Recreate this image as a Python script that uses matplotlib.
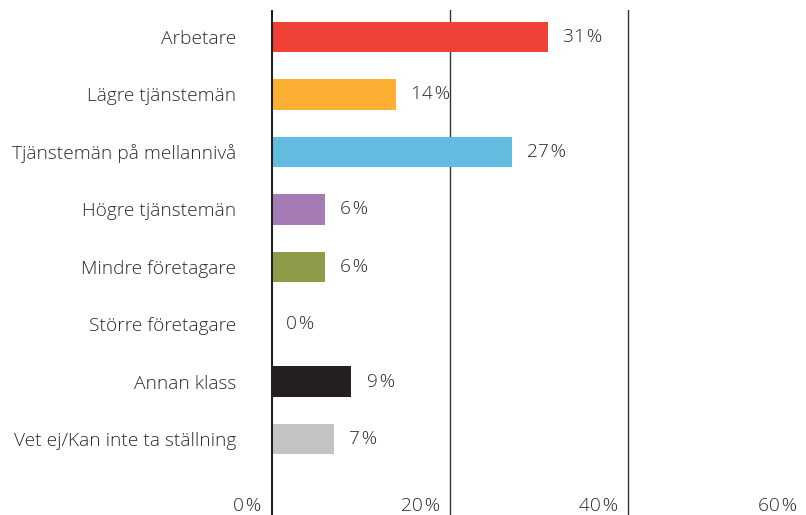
import matplotlib
matplotlib.use("agg")
import matplotlib.pyplot as plt
from matplotlib import transforms

categories = ["Arbetare", "Lägre tjänstemän", "Tjänstemän på mellannivå",
              "Högre tjänstemän", "Mindre företagare", "Större företagare",
              "Annan klass", "Vet ej/Kan inte ta ställning"]
values = [31, 14, 27, 6, 6, 0, 9, 7]
colors = ["#EF4136", "#FBB034", "#63BBE0", "#A57BB5", "#8E9C4A",
          "#FFFFFF", "#231F20", "#C4C4C4"]
xticks = [0, 20, 40, 60]

plt.rcParams['font.family'] = ['Open Sans', 'DejaVu Sans']
text_color = "#2b2b2b"
fs = 13.8
fw = "light"

fig = plt.figure(figsize=(8.06, 5.15), dpi=100)
ax = fig.add_axes([271 / 806, 0, 536 / 806, 505 / 515])

ypos = list(range(len(categories)))
ax.barh(ypos, values, height=0.53, color=colors)

# value labels right of each bar
for y, v in zip(ypos, values):
    ax.text(v + 1.7, y, f"{v}\u200a%", va="center", ha="left",
            fontsize=fs, color=text_color, fontweight=fw)

ax.set_xlim(0, 60)
ax.set_ylim(len(categories) - 1 + 1.32, -0.47)

# vertical lines
ax.axvline(0, color="#231F20", lw=2.2, zorder=3)
for t in xticks[1:]:
    ax.axvline(t, color="#333333", lw=1, zorder=0)

# x tick labels at the bottom, just left of each line
trans = transforms.blended_transform_factory(ax.transData, fig.transFigure)
for t in xticks:
    ax.text(t - 1.1, 9 / 515, f"{t}\u200a%", ha="right", va="center",
            transform=trans, fontsize=fs, color=text_color, fontweight=fw)

ax.set_yticks(ypos)
ax.set_yticklabels(categories, fontsize=fs, color=text_color, fontweight=fw)
ax.tick_params(axis="y", length=0, pad=25)
ax.set_xticks([])
for s in ax.spines.values():
    s.set_visible(False)

fig.savefig("out.png", dpi=100)
